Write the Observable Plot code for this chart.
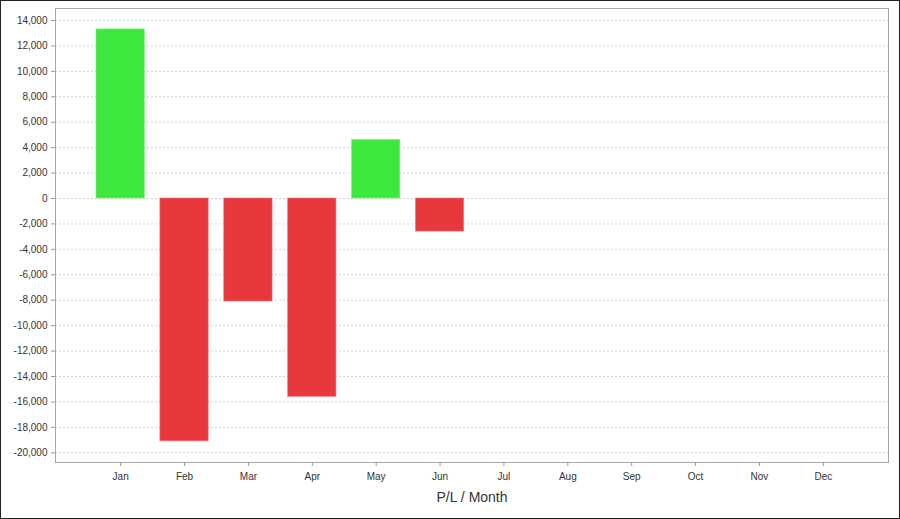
<!DOCTYPE html>
<html>
<head>
<meta charset="utf-8">
<script src="https://cdn.jsdelivr.net/npm/d3@7"></script>
<script src="https://cdn.jsdelivr.net/npm/@observablehq/plot@0.6"></script>
<style>
  html, body { margin: 0; padding: 0; background: #fff; }
  #wrap { position: relative; width: 900px; height: 519px; overflow: hidden; }
  #wrap::after { content: ""; position: absolute; left: 0; top: 0; right: 0; bottom: 0; border: 1px solid #222; pointer-events: none; }
  svg { font-family: "Liberation Sans", Arial, sans-serif; }
</style>
</head>
<body>
<div id="wrap"></div>
<script>
const months = ["Jan","Feb","Mar","Apr","May","Jun","Jul","Aug","Sep","Oct","Nov","Dec"];
const plMonths = ["Jan","Feb","Mar","Apr","May","Jun"];
const plValues = [13300, -19100, -8100, -15600, 4600, -2600];
const yTicks = [-20000,-18000,-16000,-14000,-12000,-10000,-8000,-6000,-4000,-2000,0,2000,4000,6000,8000,10000,12000,14000];
const xTitle = "P/L / Month";

const data = plMonths.map((m, i) => ({month: m, pl: plValues[i]}));
const GREEN = "#3de83c", RED = "#e8373d";
const fmt = d => d.toLocaleString("en-US");

const chart = Plot.plot({
  width: 900,
  height: 519,
  marginLeft: 55,
  marginTop: 8,
  marginRight: 12,
  marginBottom: 57,
  style: {fontFamily: "'Liberation Sans', Arial, sans-serif", background: "#fff"},
  x: {domain: months, paddingInner: 0.244, paddingOuter: 0.642, align: 0.5, round: false},
  y: {domain: [-20763, 14944]},
  marks: [
    Plot.gridY(yTicks, {stroke: "#d2d2d2", strokeOpacity: 1, strokeDasharray: "2,2"}),
    Plot.barY(data, {x: "month", y: "pl", fill: d => d.pl >= 0 ? GREEN : RED, stroke: d => d.pl >= 0 ? "#7cf07a" : "#f07a7e", strokeWidth: 0.6}),
    Plot.frame({stroke: "#a6a6a6"}),
    Plot.axisY(yTicks, {tickSize: 4, tickPadding: 4, tickFormat: fmt, fontSize: 10, stroke: "#999", fill: "#333", label: null}),
    Plot.axisX({tickSize: 4, tickPadding: 6, fontSize: 10, stroke: "#999", fill: "#333", label: null}),
    Plot.text([xTitle], {text: d => d, frameAnchor: "bottom", dy: 39, fontSize: 14, fill: "#333"})
  ]
});
document.getElementById("wrap").appendChild(chart);
</script>
</body>
</html>
